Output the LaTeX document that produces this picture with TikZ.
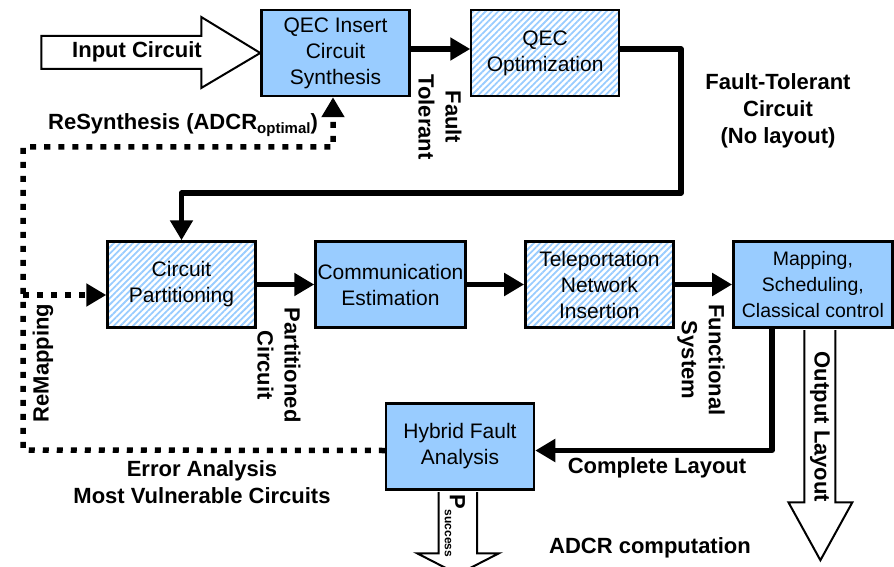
\documentclass[tikz,border=0pt]{standalone}
\usepackage{fontspec}
\setmainfont{Liberation Sans}
\usetikzlibrary{positioning,arrows.meta,patterns.meta}
\definecolor{boxblue}{HTML}{99CCFF}

\begin{document}
\begin{tikzpicture}[
  x=1pt, y=-1pt,
  font=\fontsize{21}{26}\selectfont,
  fillbox/.style = {
    rectangle, draw=black, line width=2.5pt, fill=boxblue,
    minimum width=148pt, minimum height=86pt, inner sep=2pt, align=center,
  },
  hatchbox/.style = {
    rectangle, draw=black, line width=2.5pt,
    pattern={Lines[angle=45,distance=4.5pt,line width=1.8pt]}, pattern color=boxblue,
    minimum width=148pt, minimum height=86pt, inner sep=2pt, align=center,
  },
  tag/.style = {font=\bfseries\fontsize{22}{27}\selectfont, align=center, inner sep=0pt},
  flow/.style = {-{Triangle[length=20pt,width=22pt]}, line width=5.5pt, line join=round},
  back/.style = {flow, dash pattern=on 6pt off 8pt},
  hollow/.style = {draw=black, fill=white, line width=2pt, line join=miter},
  node distance=57.5pt,
]
  \useasboundingbox (0,0) rectangle (894,567);

  \node[fillbox]                         (qins) at (335.5,53) {QEC Insert\\Circuit\\Synthesis};
  \node[hatchbox, right=59.5pt of qins]  (qopt) {QEC\\Optimization};
  \node[hatchbox]                        (part) at (181.5,284.5) {Circuit\\Partitioning};
  \node[fillbox, right=of part]          (comm) {Communication\\Estimation};
  \node[hatchbox, right=of comm]         (tele) {Teleportation\\Network\\Insertion};
  \node[fillbox, right=of tele, minimum width=159pt, inner sep=0pt,
        font=\fontsize{19.5}{26}\selectfont] (mapp) {Mapping,\\Scheduling,\\Classical control};
  \node[fillbox]                         (hyb) at (460,446.5) {Hybrid Fault\\Analysis};

  \coordinate (ftturn) at (681,193);
  \coordinate (dlow) at (23,450);
  \coordinate (dtop) at (23,147);
  \coordinate (dmid) at (23,295);

  \draw[flow] ([yshift=4pt]qins.east) -- ([yshift=4pt]qopt.west);
  \draw[flow] ([yshift=4pt]qopt.east) -| (ftturn) -| (part.north);
  \draw[flow] (part.east) -- (comm.west);
  \draw[flow] (comm.east) -- (tele.west);
  \draw[flow] (tele.east) -- (mapp.west);
  \draw[flow] ([xshift=-41pt]mapp.south) |- ([yshift=-4pt]hyb.east);

  \draw[back] ([yshift=-4pt]hyb.west) -- (dlow) -- (dtop) -| ([xshift=-2.5pt]qins.south);
  \draw[back] (dmid) -- (dmid -| part.west);

  \draw[hollow] (qins.west) -- ++(-59,35) -- ++(0,-19) -- ++(-160,0) -- ++(0,-33) -- ++(160,0) -- ++(0,-19) -- cycle;
  \draw[hollow] ([xshift=-8.5pt,yshift=-1.25pt]mapp.south) -- ++(0,172.25) -- ++(-16,0) -- ++(32,58) -- ++(32,-58) -- ++(-17,0) -- ++(0,-172.25);
  \draw[hollow] ([xshift=-21.5pt,yshift=-1.25pt]hyb.south) -- ++(0,61.25) -- ++(-21.5,0) -- ++(41,21) -- ++(41,-21) -- ++(-22,0) -- ++(0,-61.25);

  \node[tag]             (intxt)   at (137,52)  {Input Circuit};
  \node[tag, rotate=-90] (fttxt)   at (440,117) {Fault\\Tolerant};
  \node[tag]             (ftcirc)  at (778,111) {Fault-Tolerant\\Circuit\\(No layout)};
  \node[tag]             (resyn)   at (183,125) {ReSynthesis (ADCR\raisebox{-4pt}{\fontsize{15}{15}\selectfont optimal})};
  \node[tag, rotate=90]  (remap)   at (43,363)  {ReMapping};
  \node[tag, rotate=-90] (parttxt) at (279,365) {Partitioned\\Circuit};
  \node[tag, rotate=-90] (functxt) at (701,360) {Functional\\System};
  \node[tag, rotate=-90] (outtxt)  at (820,427) {Output Layout};
  \node[tag]             (cltxt)   at (657,468) {Complete Layout};
  \node[tag]             (errtxt)  at (202,482) {Error Analysis\\Most Vulnerable Circuits};
  \node[tag, rotate=-90] (ptxt)    at (455,526) {P\raisebox{-5pt}{\fontsize{12}{12}\selectfont success}};
  \node[tag]             (adcr)    at (650,548) {ADCR computation};
\end{tikzpicture}
\end{document}
